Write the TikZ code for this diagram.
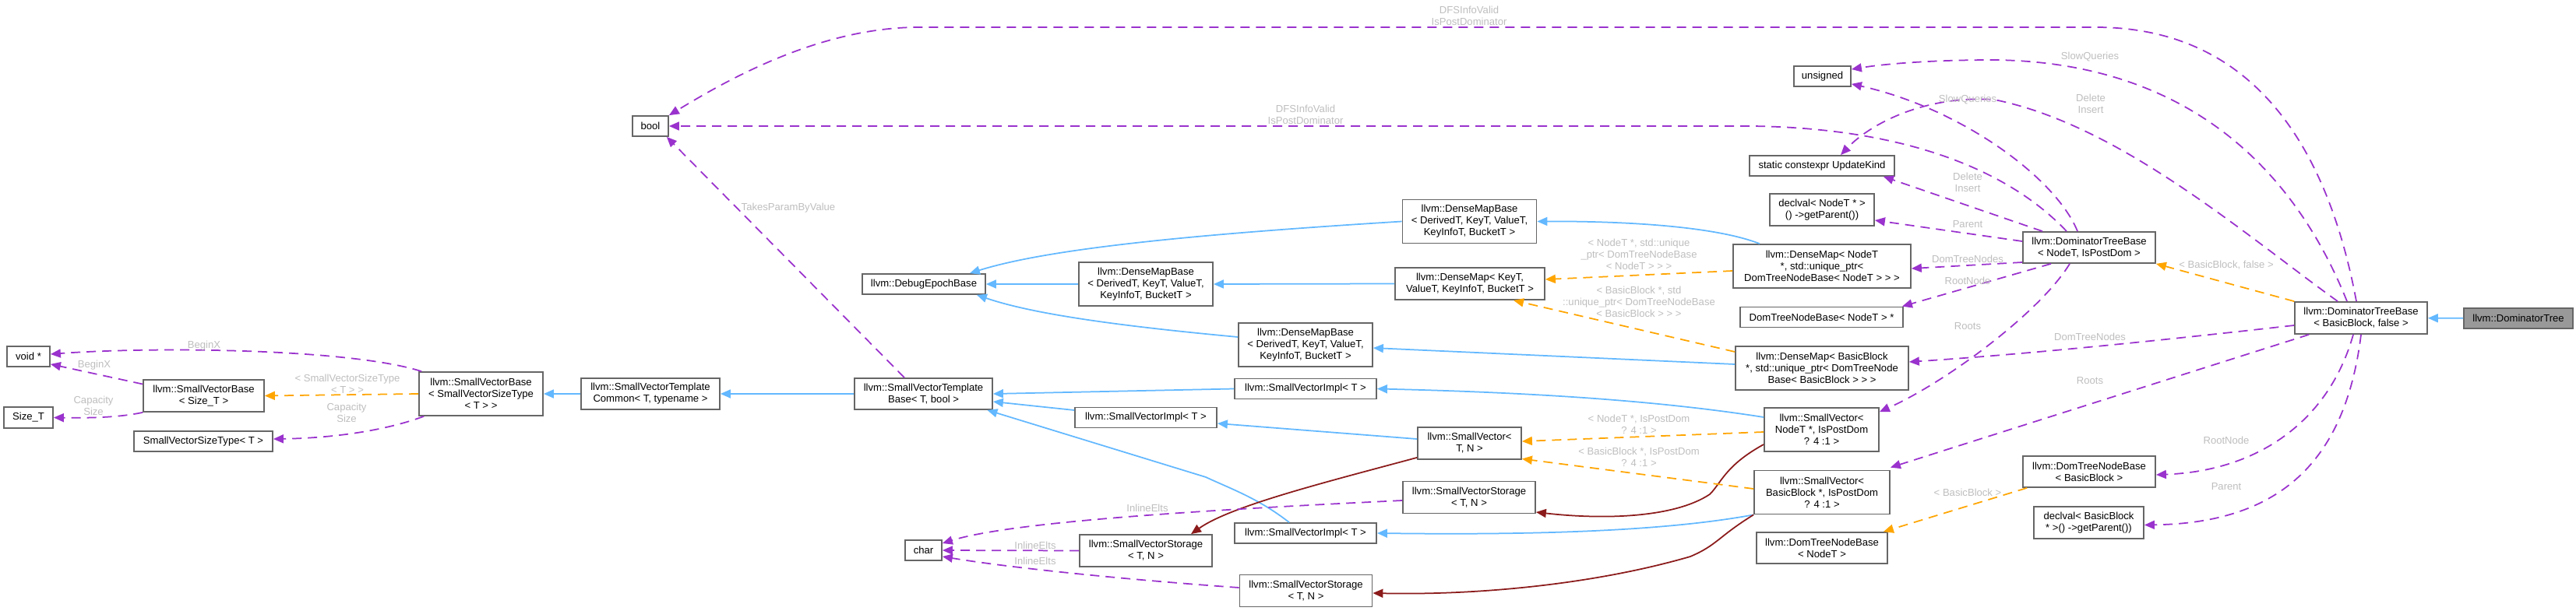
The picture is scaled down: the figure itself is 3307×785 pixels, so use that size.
\documentclass[tikz,border=0pt]{standalone}
\usepackage{fontspec}
\setmainfont{Liberation Sans}
\usetikzlibrary{arrows.meta}
\definecolor{pubblue}{HTML}{63B8FF}
\definecolor{usepurple}{HTML}{9A32CD}
\definecolor{tmplorange}{HTML}{FFA500}
\definecolor{privred}{HTML}{8B1A1A}
\definecolor{boxgray}{HTML}{666666}
\definecolor{lblgray}{HTML}{BEBEBE}
\begin{document}
\begin{tikzpicture}[x=0.2mm, y=-0.2mm,
    box/.style={draw=boxgray, fill=white, line width=0.35mm, inner sep=0pt, align=center,
      font=\fontsize{7.45pt}{8.54pt}\selectfont},
    curbox/.style={box, fill=black!40},
    lbl/.style={inner sep=0pt, align=center, text=lblgray, font=\fontsize{7.45pt}{8.54pt}\selectfont},
    tip/.style={-{Triangle[length=2.6mm, width=2.2mm]}},
    pubedge/.style={tip, draw=pubblue, line width=0.35mm},
    privedge/.style={tip, draw=privred, line width=0.35mm},
    tmpledge/.style={tip, draw=tmplorange, line width=0.35mm, dash pattern=on 2.4mm off 1.6mm},
    useedge/.style={tip, draw=usepurple, line width=0.35mm, dash pattern=on 2.4mm off 1.6mm}]
    \useasboundingbox (0,0) rectangle (3307,785);

    % Leaf types
    \node[box, minimum width=9.2mm, minimum height=5.2mm] (bool) at (835,162) {bool};
    \node[box, minimum width=11mm, minimum height=5.2mm] (voidp) at (36.5,458) {void *};
    \node[box, minimum width=12.6mm, minimum height=5.4mm] (sizet) at (36.5,536.5) {Size\_T};
    \node[box, minimum width=35.6mm, minimum height=5.2mm] (svst) at (261,567) {SmallVectorSizeType< T >};
    \node[box, minimum width=9.4mm, minimum height=5.2mm] (char) at (1185.5,707) {char};
    \node[box, minimum width=14.6mm, minimum height=5.2mm] (unsigned) at (2339.5,98) {unsigned};
    \node[box, minimum width=37.2mm, minimum height=5.2mm] (updkind) at (2339,213) {static constexpr UpdateKind};
    \node[box, minimum width=26.8mm, minimum height=8.2mm] (declnode) at (2339,269.5) {declval< NodeT * >\\() ->getParent())};
    \node[box, minimum width=41.8mm, minimum height=5.2mm] (dtnbptr) at (2338.5,407.5) {DomTreeNodeBase< NodeT > *};
    \node[box, minimum width=28.2mm, minimum height=8.2mm] (declbb) at (2681.5,671.5) {declval< BasicBlock\\ * >() ->getParent())};

    % SmallVector chain
    \node[box, minimum width=31mm, minimum height=8.2mm] (svbsize) at (261.5,508.5) {llvm::SmallVectorBase\\< Size\_T >};
    \node[box, minimum width=31.8mm, minimum height=11.2mm] (svbsvst) at (617.5,506) {llvm::SmallVectorBase\\< SmallVectorSizeType\\< T > >};
    \node[box, minimum width=35.6mm, minimum height=8mm] (svtc) at (835,506) {llvm::SmallVectorTemplate\\Common< T, typename >};
    \node[box, minimum width=35.4mm, minimum height=8mm] (svtb) at (1185.5,506) {llvm::SmallVectorTemplate\\Base< T, bool >};
    \node[box, minimum width=36.4mm, minimum height=5.2mm] (svimpla) at (1676,499.5) {llvm::SmallVectorImpl< T >};
    \node[box, minimum width=36.4mm, minimum height=5.2mm] (svimplb) at (1471,536.5) {llvm::SmallVectorImpl< T >};
    \node[box, minimum width=36.4mm, minimum height=5.2mm] (svimplc) at (1676,685) {llvm::SmallVectorImpl< T >};
    \node[box, minimum width=34mm, minimum height=8.2mm] (svsa) at (1471,707.5) {llvm::SmallVectorStorage\\< T, N >};
    \node[box, minimum width=34mm, minimum height=8.2mm] (svsb) at (1676.5,759) {llvm::SmallVectorStorage\\< T, N >};
    \node[box, minimum width=34mm, minimum height=8.2mm] (svsc) at (1886,639) {llvm::SmallVectorStorage\\< T, N >};
    \node[box, minimum width=26.6mm, minimum height=8.2mm] (svtn) at (1886.5,569.5) {llvm::SmallVector<\\T, N >};
    \node[box, minimum width=29.4mm, minimum height=11.2mm] (svnode) at (2338.5,552) {llvm::SmallVector<\\NodeT *, IsPostDom\\? 4 :1 >};
    \node[box, minimum width=34.8mm, minimum height=11.2mm] (svbb) at (2339,632.5) {llvm::SmallVector<\\BasicBlock *, IsPostDom\\? 4 :1 >};

    % DenseMap chain
    \node[box, minimum width=31.6mm, minimum height=5.2mm] (deb) at (1186,365) {llvm::DebugEpochBase};
    \node[box, minimum width=34.4mm, minimum height=11.2mm] (dmba) at (1886.5,284.5) {llvm::DenseMapBase\\< DerivedT, KeyT, ValueT,\\KeyInfoT, BucketT >};
    \node[box, minimum width=34.4mm, minimum height=11.2mm] (dmbb) at (1471,365) {llvm::DenseMapBase\\< DerivedT, KeyT, ValueT,\\KeyInfoT, BucketT >};
    \node[box, minimum width=34.4mm, minimum height=11.2mm] (dmbc) at (1676,443) {llvm::DenseMapBase\\< DerivedT, KeyT, ValueT,\\KeyInfoT, BucketT >};
    \node[box, minimum width=38.4mm, minimum height=8.2mm] (dmkey) at (1887,364.5) {llvm::DenseMap< KeyT,\\ValueT, KeyInfoT, BucketT >};
    \node[box, minimum width=45.6mm, minimum height=11.2mm] (dmnode) at (2339,342) {llvm::DenseMap< NodeT\\ *, std::unique\_ptr<\\DomTreeNodeBase< NodeT > > >};
    \node[box, minimum width=44.4mm, minimum height=11.2mm] (dmbb2) at (2339,473) {llvm::DenseMap< BasicBlock\\ *, std::unique\_ptr< DomTreeNode\\Base< BasicBlock > > >};

    % Dominator trees
    \node[box, minimum width=33.6mm, minimum height=8mm] (dtnbnode) at (2339,704) {llvm::DomTreeNodeBase\\< NodeT >};
    \node[box, minimum width=34mm, minimum height=8mm] (dtbnode) at (2682,318) {llvm::DominatorTreeBase\\< NodeT, IsPostDom >};
    \node[box, minimum width=34mm, minimum height=8mm] (dtnbbb) at (2682,606) {llvm::DomTreeNodeBase\\< BasicBlock >};
    \node[box, minimum width=34mm, minimum height=8.2mm] (dtbbb) at (3031,408.5) {llvm::DominatorTreeBase\\< BasicBlock, false >};
    \node[curbox, minimum width=28mm, minimum height=5.2mm] (domtree) at (3233,409) {llvm::DominatorTree};

    % Public inheritance
    \draw[pubedge] (domtree) -- (dtbbb);
    \draw[pubedge] (svtc) -- (svbsvst);
    \draw[pubedge] (svtb) -- (svtc);
    \draw[pubedge] (svimpla.west) -- (svtb.east);
    \draw[pubedge] ([yshift=1.9mm]svimplb.west) -- ([yshift=-2mm]svtb.east);
    \draw[pubedge] ([xshift=-4.2mm]svimplc.north) .. controls (1615,640) and (1580,628) .. (1548,613) -- ([xshift=-1.5mm]svtb.south east);
    \draw[pubedge] (dmbb) -- (deb);
    \draw[pubedge] (dmba.west) .. controls (1550,300) and (1350,318) .. ([xshift=-4.2mm]deb.north east);
    \draw[pubedge] ([yshift=2mm]dmbc.west) .. controls (1450,420) and (1330,405) .. ([xshift=-2.4mm]deb.south east);
    \draw[pubedge] (dmkey.west) -- (dmbb.east);
    \draw[pubedge] ([xshift=-16mm]dmnode.north) .. controls (2200,290) and (2080,284) .. (dmba.east);
    \draw[pubedge] ([yshift=1mm]dmbb2.west) -- ([yshift=-0.8mm]dmbc.east);
    \draw[pubedge] ([yshift=1.1mm]svtn.west) -- ([yshift=-1.5mm]svimplb.east);
    \draw[pubedge] ([yshift=3.2mm]svnode.west) .. controls (2150,518) and (2000,505) .. (svimpla.east);
    \draw[pubedge] (svbb.south west) .. controls (2150,680) and (2000,688) .. (svimplc.east);

    % Private inheritance
    \draw[privedge] ([yshift=0.6mm]svtn.south west) .. controls (1700,620) and (1580,650) .. ([xshift=11.6mm]svsa.north);
    \draw[privedge] ([yshift=-3.8mm]svnode.west) .. controls (2215,598) and (2210,620) .. (2195,635) .. controls (2150,665) and (2060,668) .. ([yshift=-3.8mm]svsc.east);
    \draw[privedge] (svbb.south west) .. controls (2205,690) and (2205,700) .. (2170,715) .. controls (2050,750) and (1900,765) .. ([yshift=-0.6mm]svsb.east);

    % Template instances
    \draw[tmpledge] (svbsvst.west) -- (svbsize.east);
    \draw[tmpledge] ([yshift=-1.2mm]dmnode.west) -- ([yshift=1.1mm]dmkey.east);
    \draw[tmpledge] ([yshift=4.2mm]dmbb2.west) -- ([xshift=11.2mm]dmkey.south);
    \draw[tmpledge] ([yshift=-0.6mm]svnode.west) -- ([yshift=0.5mm]svtn.east);
    \draw[tmpledge] ([yshift=0.9mm]svbb.west) -- ([yshift=-4mm]svtn.east);
    \draw[tmpledge] (dtbbb.north west) -- (dtbnode.south east);
    \draw[tmpledge] ([xshift=1.2mm]dtnbbb.south west) -- ([xshift=-1.2mm]dtnbnode.north east);

    % Usage
    \draw[useedge] ([xshift=-1.2mm]dtbbb.north) .. controls (2990,200) and (2900,35) .. (2690,35) -- (1180,35) .. controls (1050,35) and (930,105) .. (bool.north east);
    \draw[useedge] ([xshift=-5.8mm]dtbnode.north) .. controls (2580,220) and (2450,165) .. (2250,162) -- (bool.east);
    \draw[useedge] ([xshift=-3mm]dtbnode.north) .. controls (2640,230) and (2520,140) .. ([yshift=0.8mm]unsigned.south east);
    \draw[useedge] ([xshift=-3.6mm]dtbbb.north) .. controls (2950,230) and (2820,80) .. (2560,77) .. controls (2480,77) and (2420,82) .. ([yshift=1.8mm]unsigned.east);
    \draw[useedge] ([xshift=-12mm]dtbnode.north) -- ([xshift=-3mm]updkind.south east);
    \draw[useedge] ([xshift=-6mm]dtbbb.north) .. controls (2880,300) and (2720,160) .. (2560,128) .. controls (2470,122) and (2400,160) .. ([xshift=4.8mm]updkind.north);
    \draw[useedge] ([yshift=1.6mm]dtbnode.west) -- ([yshift=-2.7mm]declnode.east);
    \draw[useedge] ([yshift=-3.8mm]dtbnode.west) -- ([yshift=-0.6mm]dmnode.east);
    \draw[useedge] ([xshift=-9.8mm]dtbnode.south) -- ([xshift=-0.4mm]dtnbptr.north east);
    \draw[useedge] ([xshift=-5mm]dtbnode.south) .. controls (2620,400) and (2500,490) .. ([yshift=-1.2mm]svnode.north east);
    \draw[useedge] ([yshift=-1.9mm]dtbbb.west) .. controls (2750,440) and (2600,455) .. ([yshift=1.6mm]dmbb2.east);
    \draw[useedge] ([xshift=3.8mm]dtbbb.south west) -- ([yshift=0.6mm]svbb.north east);
    \draw[useedge] ([xshift=-2mm]dtbbb.south) .. controls (2990,540) and (2900,605) .. ([yshift=-0.8mm]dtnbbb.east);
    \draw[useedge] (dtbbb.south) .. controls (3010,600) and (2920,672) .. ([yshift=-0.6mm]declbb.east);
    \draw[useedge] ([xshift=-4.9mm]svtb.north) -- ([xshift=-0.6mm]bool.south east);
    \draw[useedge] ([xshift=0.8mm]svbsvst.north west) .. controls (450,448) and (200,445) .. ([yshift=0.6mm]voidp.east);
    \draw[useedge] ([yshift=3mm]svbsize.west) -- ([yshift=0.8mm]voidp.south east);
    \draw[useedge] (svbsize.south west) .. controls (150,537) and (110,537) .. (sizet.east);
    \draw[useedge] ([xshift=1.4mm]svbsvst.south west) .. controls (490,555) and (420,563) .. ([yshift=0.6mm]svst.east);
    \draw[useedge] ([yshift=-0.8mm]svsc.west) .. controls (1550,655) and (1300,670) .. ([yshift=1.8mm]char.east);
    \draw[useedge] (svsa.west) -- (char.east);
    \draw[useedge] ([yshift=0.8mm]svsb.west) .. controls (1450,745) and (1300,730) .. ([yshift=-1.6mm]char.east);

    % Edge labels
    \node[lbl] (ldfsa) at (1886,20) {DFSInfoValid\\IsPostDominator};
    \node[lbl] (ldfsb) at (1676,147) {DFSInfoValid\\IsPostDominator};
    \node[lbl] (ltakes) at (1012,267) {TakesParamByValue};
    \node[lbl] (lbegina) at (262,444) {BeginX};
    \node[lbl] (lbeginb) at (121,469) {BeginX};
    \node[lbl] (lsvst) at (446,493) {< SmallVectorSizeType\\< T > >};
    \node[lbl] (lcapa) at (120,521) {Capacity\\Size};
    \node[lbl] (lcapb) at (445,530) {Capacity\\Size};
    \node[lbl] (linla) at (1473,653) {InlineElts};
    \node[lbl] (linlb) at (1329,701) {InlineElts};
    \node[lbl] (linlc) at (1329,721) {InlineElts};
    \node[lbl] (lslowa) at (2526,128) {SlowQueries};
    \node[lbl] (lslowb) at (2683,73) {SlowQueries};
    \node[lbl] (ldela) at (2526,234) {Delete\\Insert};
    \node[lbl] (ldelb) at (2684,133) {Delete\\Insert};
    \node[lbl] (lpara) at (2526,288) {Parent};
    \node[lbl] (lparb) at (2858,625) {Parent};
    \node[lbl] (ldtna) at (2526,333) {DomTreeNodes};
    \node[lbl] (ldtnb) at (2683,433) {DomTreeNodes};
    \node[lbl] (lroota) at (2526,361) {RootNode};
    \node[lbl] (lrootb) at (2858,566) {RootNode};
    \node[lbl] (lrootsa) at (2526,419) {Roots};
    \node[lbl] (lrootsb) at (2683,489) {Roots};
    \node[lbl] (lbbfalse) at (2858,341) {< BasicBlock, false >};
    \node[lbl] (lbb) at (2526,633) {< BasicBlock >};
    \node[lbl] (lnodemap) at (2104,327) {< NodeT *, std::unique\\\_ptr< DomTreeNodeBase\\< NodeT > > >};
    \node[lbl] (lbbmap) at (2104,388) {< BasicBlock *, std\\::unique\_ptr< DomTreeNodeBase\\< BasicBlock > > >};
    \node[lbl] (lnodevec) at (2104,545) {< NodeT *, IsPostDom\\? 4 :1 >};
    \node[lbl] (lbbvec) at (2104,587) {< BasicBlock *, IsPostDom\\? 4 :1 >};
\end{tikzpicture}
\end{document}
